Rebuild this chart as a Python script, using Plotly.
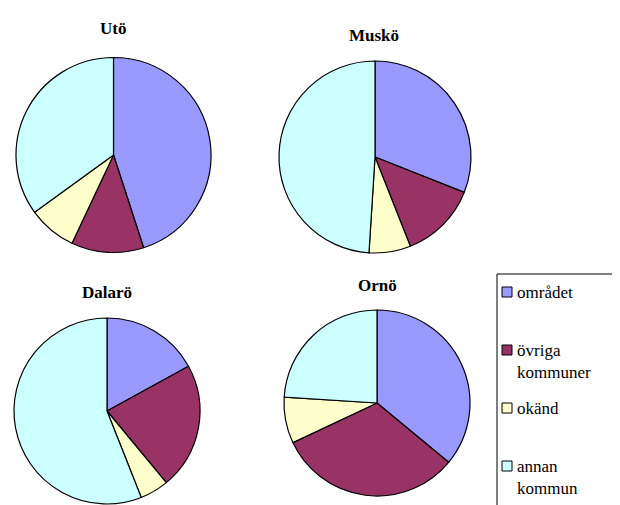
import plotly.graph_objects as go

categories = ["området", "övriga kommuner", "okänd", "annan kommun"]
legend_lines = [["området"], ["övriga", "kommuner"], ["okänd"], ["annan", "kommun"]]
colors = ["#9999FF", "#993366", "#FFFFCC", "#CCFFFF"]

islands = ["Utö", "Muskö", "Dalarö", "Ornö"]
uto = [45, 12, 8, 35]
musko = [31, 13, 7, 49]
dalaro = [17, 22, 5, 56]
orno = [36, 32, 8, 24]
values = [uto, musko, dalaro, orno]

W, H = 620, 505
OFF = 8  # page body margin in the browser
SERIF = "Liberation Serif"
# pie placement in screen pixels: center x, center y, radius
pies = [(113.5, 155, 97.5), (375, 157, 96), (107, 411, 93), (377, 403, 93)]
title_pos = [(113, 28), (374, 35), (107, 292), (377, 285)]


def px(x):
    return (x - OFF) / W


def py(y):
    return 1 - (y - OFF) / H


fig = go.Figure()
for name, vals, (cx, cy, r) in zip(islands, values, pies):
    fig.add_trace(go.Pie(
        labels=categories, values=vals, sort=False, direction="clockwise",
        rotation=0, textinfo="none", hoverinfo="label+percent",
        marker=dict(colors=colors, line=dict(color="black", width=1.2)),
        domain=dict(x=[px(cx - r), px(cx + r)], y=[py(cy + r), py(cy - r)]),
        showlegend=False, name=name,
    ))

annotations = []
for name, (tx, ty) in zip(islands, title_pos):
    annotations.append(dict(x=px(tx), y=py(ty), xref="paper", yref="paper",
                            text=f"<b>{name}</b>", showarrow=False,
                            font=dict(family=SERIF, size=17, color="black"),
                            xanchor="center", yanchor="middle"))

shapes = [dict(type="rect", xref="paper", yref="paper", x0=px(497), x1=px(660),
               y0=py(540), y1=py(274), line=dict(color="black", width=1),
               fillcolor="rgba(0,0,0,0)")]
entry_y = [292, 350, 408, 466]
for lines, col, ey in zip(legend_lines, colors, entry_y):
    shapes.append(dict(type="rect", xref="paper", yref="paper",
                       x0=px(502), x1=px(512), y0=py(ey + 5), y1=py(ey - 5),
                       fillcolor=col, line=dict(color="black", width=1)))
    for k, line in enumerate(lines):
        annotations.append(dict(x=px(515), y=py(ey + 22 * k), xref="paper", yref="paper",
                                text=line, showarrow=False,
                                font=dict(family=SERIF, size=17, color="black"),
                                xanchor="left", yanchor="middle"))

fig.update_layout(width=W, height=H, margin=dict(l=0, r=0, t=0, b=0),
                  paper_bgcolor="white", plot_bgcolor="white",
                  font=dict(family=SERIF),
                  annotations=annotations, shapes=shapes, showlegend=False)
fig.write_html("out.html")
